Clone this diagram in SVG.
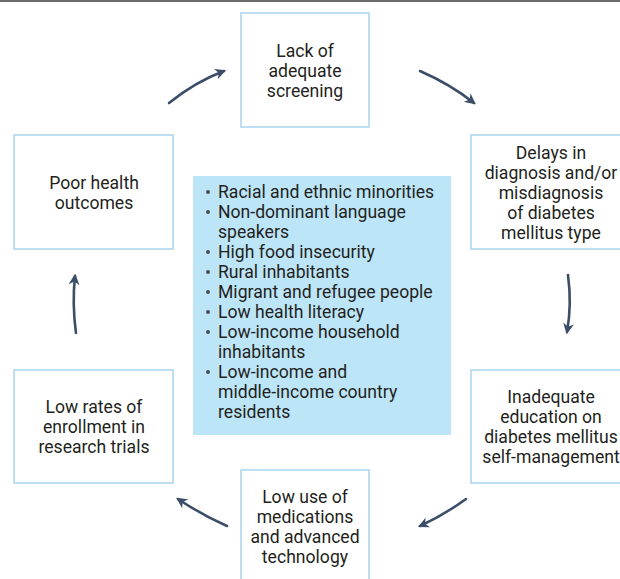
<svg xmlns="http://www.w3.org/2000/svg" width="620" height="579" viewBox="0 0 620 579">
  <style>
    .box { fill: #ffffff; stroke: #a9d3ee; stroke-width: 1.5; }
    .panel { fill: #bde5f8; }
    .lbl { font-family: Roboto, "Liberation Sans", Arial, sans-serif; font-size: 17.6px; fill: #231f20; text-anchor: middle; }
    .lst { font-family: Roboto, "Liberation Sans", Arial, sans-serif; font-size: 17.6px; fill: #231f20; }
    .dot { fill: #4a4f57; }
    .conn { fill: none; stroke: #3c4d69; stroke-width: 2.6; stroke-linecap: round; marker-end: url(#head); }
  </style>
  <defs>
    <marker id="head" viewBox="0 0 10 10" refX="8" refY="5" markerWidth="4.2" markerHeight="4.2" orient="auto" markerUnits="strokeWidth">
      <path d="M0,0 L10,5 L0,10 L3,5 Z" fill="#3c4d69"/>
    </marker>
  </defs>

  <rect width="620" height="579" fill="#ffffff"/>
  <rect x="0" y="0" width="620" height="2" fill="#6b6b6b"/>

  <g id="screening">
    <rect class="box" x="241" y="13" width="128" height="114"/>
    <text class="lbl" x="305" y="57">Lack of</text>
    <text class="lbl" x="305" y="77">adequate</text>
    <text class="lbl" x="305" y="97">screening</text>
  </g>

  <g id="diagnosis">
    <rect class="box" x="471" y="135" width="160" height="114"/>
    <text class="lbl" x="551" y="159">Delays in</text>
    <text class="lbl" x="551" y="179">diagnosis and/or</text>
    <text class="lbl" x="551" y="199">misdiagnosis</text>
    <text class="lbl" x="551" y="219">of diabetes</text>
    <text class="lbl" x="551" y="239">mellitus type</text>
  </g>

  <g id="education">
    <rect class="box" x="471" y="370" width="160" height="113"/>
    <text class="lbl" x="551" y="403">Inadequate</text>
    <text class="lbl" x="551" y="423">education on</text>
    <text class="lbl" x="551" y="443">diabetes mellitus</text>
    <text class="lbl" x="551" y="463">self-management</text>
  </g>

  <g id="medications">
    <rect class="box" x="241" y="470" width="128" height="120"/>
    <text class="lbl" x="305" y="503">Low use of</text>
    <text class="lbl" x="305" y="523">medications</text>
    <text class="lbl" x="305" y="543">and advanced</text>
    <text class="lbl" x="305" y="563">technology</text>
  </g>

  <g id="enrollment">
    <rect class="box" x="14" y="370" width="159" height="113"/>
    <text class="lbl" x="94" y="413">Low rates of</text>
    <text class="lbl" x="94" y="433">enrollment in</text>
    <text class="lbl" x="94" y="453">research trials</text>
  </g>

  <g id="outcomes">
    <rect class="box" x="14" y="135" width="159" height="114"/>
    <text class="lbl" x="94" y="189">Poor health</text>
    <text class="lbl" x="94" y="209">outcomes</text>
  </g>

  <g id="populations">
    <rect class="panel" x="193" y="176" width="258" height="259"/>
    <g class="dot">
      <circle cx="208" cy="192" r="2"/>
      <circle cx="208" cy="212" r="2"/>
      <circle cx="208" cy="252" r="2"/>
      <circle cx="208" cy="272" r="2"/>
      <circle cx="208" cy="292" r="2"/>
      <circle cx="208" cy="312" r="2"/>
      <circle cx="208" cy="332" r="2"/>
      <circle cx="208" cy="372" r="2"/>
    </g>
    <text class="lst" x="218" y="198">Racial and ethnic minorities</text>
    <text class="lst" x="218" y="218">Non-dominant language</text>
    <text class="lst" x="218" y="238">speakers</text>
    <text class="lst" x="218" y="258">High food insecurity</text>
    <text class="lst" x="218" y="278">Rural inhabitants</text>
    <text class="lst" x="218" y="298">Migrant and refugee people</text>
    <text class="lst" x="218" y="318">Low health literacy</text>
    <text class="lst" x="218" y="338">Low-income household</text>
    <text class="lst" x="218" y="358">inhabitants</text>
    <text class="lst" x="218" y="378">Low-income and</text>
    <text class="lst" x="218" y="398">middle-income country</text>
    <text class="lst" x="218" y="418">residents</text>
  </g>

  <g id="connectors">
    <path class="conn" d="M169,103 Q195,82 224,71"/>
    <path class="conn" d="M420,71 Q450,84 474,103"/>
    <path class="conn" d="M568,275 Q572,305 567,332"/>
    <path class="conn" d="M466,499 Q444,515 420,526"/>
    <path class="conn" d="M227,526 Q202,515 178,499"/>
    <path class="conn" d="M76,333 Q72,304 75,276"/>
  </g>
</svg>
